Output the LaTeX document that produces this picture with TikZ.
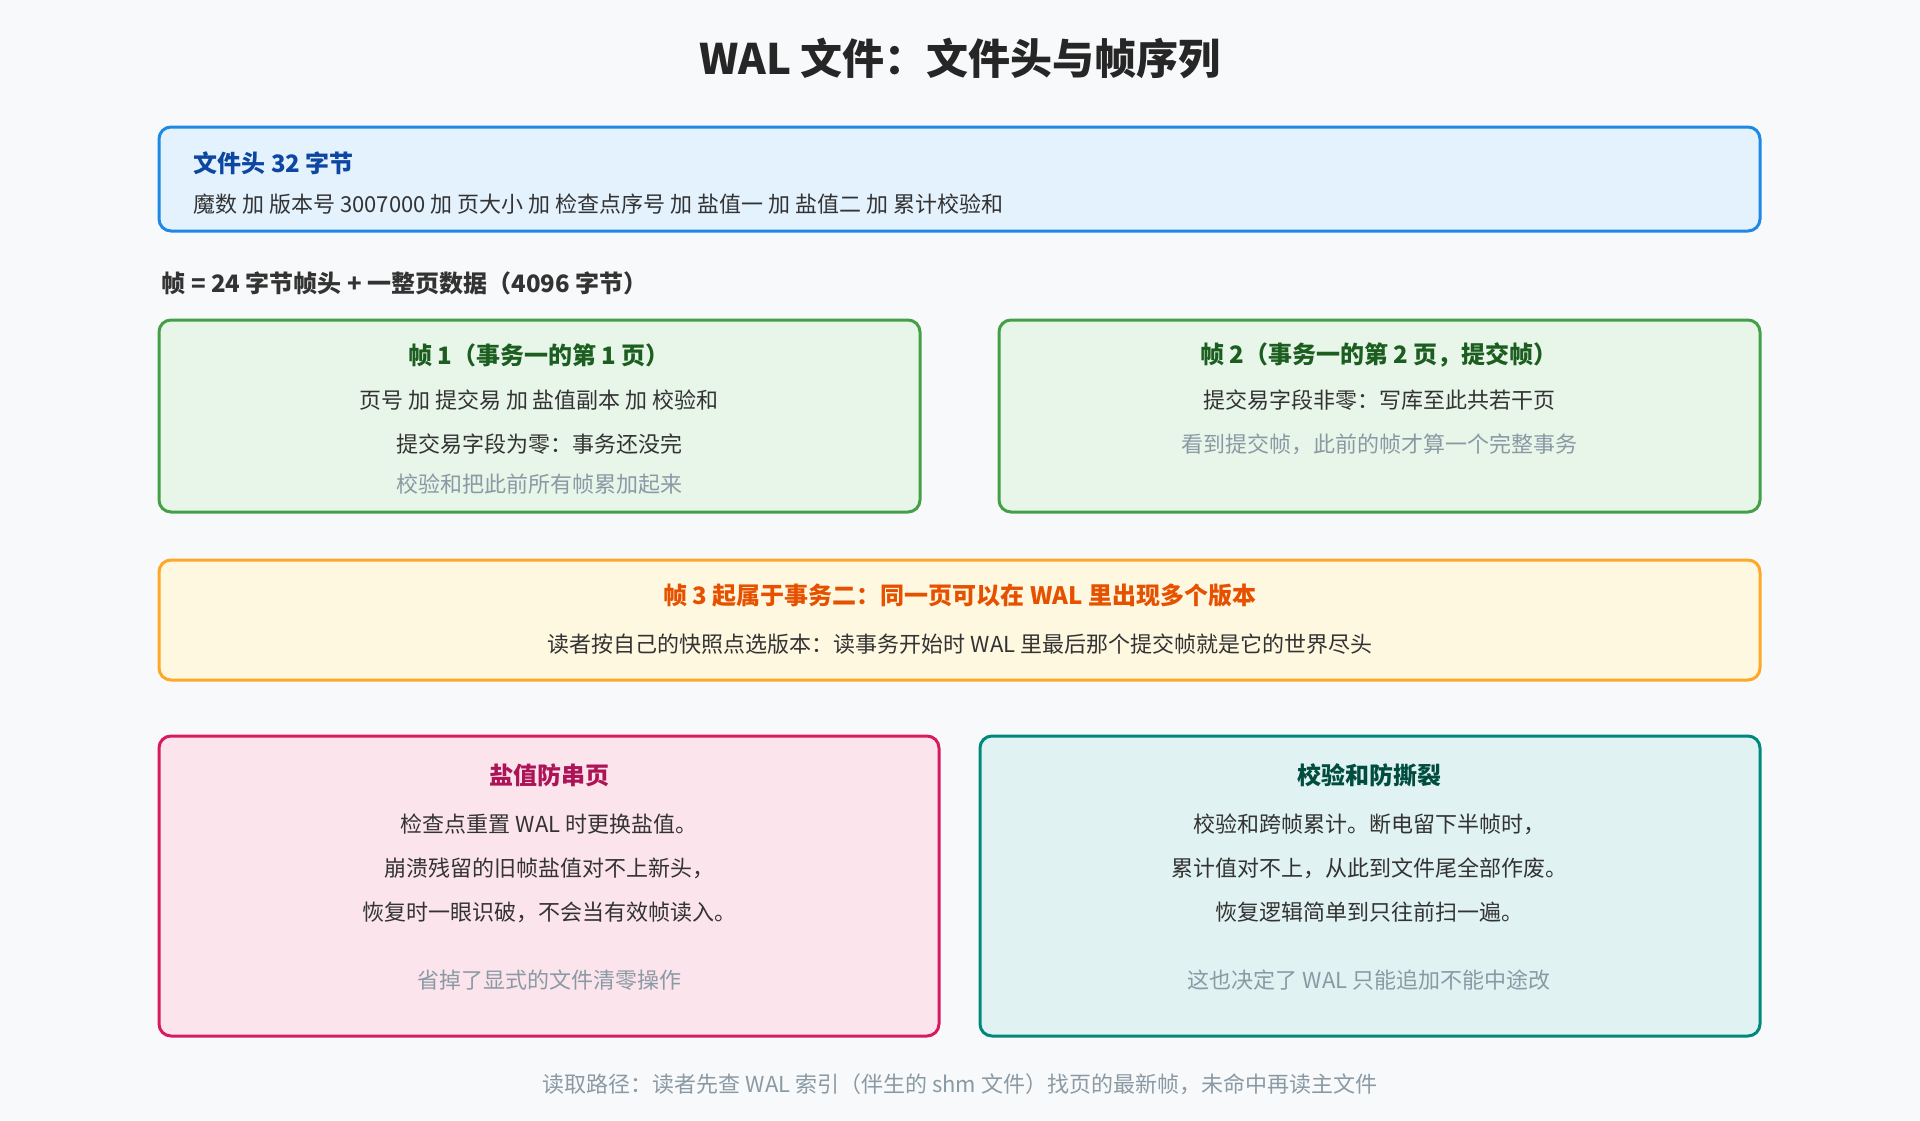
\documentclass[tikz,border=0pt]{standalone}
\usepackage{fontspec}
\setmainfont{Noto Sans CJK SC}
\begin{document}
\begin{tikzpicture}[x=1pt,y=-1pt,
 box/.style={draw=#1,line width=3pt,rounded corners=12pt},
 t/.style={font=\fontsize{22}{25}\selectfont,text=black!80},
 g/.style={font=\fontsize{22}{25}\selectfont,text=gray!80!blue!70},
 h/.style={font=\fontsize{24}{27}\selectfont\bfseries}]
\definecolor{bg}{HTML}{F8F9FA}
\definecolor{bB}{HTML}{1E88E5}\definecolor{fB}{HTML}{E3F2FD}\definecolor{tB}{HTML}{0D47A1}
\definecolor{bG}{HTML}{43A047}\definecolor{fG}{HTML}{E8F5E9}\definecolor{tG}{HTML}{1B5E20}
\definecolor{bO}{HTML}{FFA726}\definecolor{fO}{HTML}{FFF8E1}\definecolor{tO}{HTML}{E65100}
\definecolor{bP}{HTML}{D81B60}\definecolor{fP}{HTML}{FCE4EC}\definecolor{tP}{HTML}{AD1457}
\definecolor{bT}{HTML}{00897B}\definecolor{fT}{HTML}{E0F2F1}\definecolor{tT}{HTML}{004D40}
\definecolor{gr}{HTML}{8A9AA5}
\tikzset{g/.append style={text=gr}}
\path[fill=bg] (0,0) rectangle (1920,1120);
\node[font=\fontsize{42}{46}\selectfont\bfseries,text=black!85] (title) at (960,58) {WAL 文件：文件头与帧序列};
\path[box=bB,fill=fB] (159,127) rectangle (1760,231);
\node[h,anchor=west,text=tB] (hh) at (190,163) {文件头 32 字节};
\node[t,anchor=west] (hb) at (190,204) {魔数 加 版本号 3007000 加 页大小 加 检查点序号 加 盐值一 加 盐值二 加 累计校验和};
\node[h,anchor=west,text=black!80] (fr) at (158,283) {帧 = 24 字节帧头 + 一整页数据（4096 字节）};
\path[box=bG,fill=fG] (159,320) rectangle (920,512);
\node[h,text=tG] (f1) at (539,355) {帧 1（事务一的第 1 页）};
\node[t] (f1a) at (539,400) {页号 加 提交易 加 盐值副本 加 校验和};
\node[t] (f1b) at (539,444) {提交易字段为零：事务还没完};
\node[g] (f1c) at (539,484) {校验和把此前所有帧累加起来};
\path[box=bG,fill=fG] (999,320) rectangle (1760,512);
\node[h,text=tG] (f2) at (1379,355) {帧 2（事务一的第 2 页，提交帧）};
\node[t] (f2a) at (1379,400) {提交易字段非零：写库至此共若干页};
\node[g] (f2b) at (1379,444) {看到提交帧，此前的帧才算一个完整事务};
\path[box=bO,fill=fO] (159,560) rectangle (1760,680);
\node[h,text=tO] (f3) at (960,596) {帧 3 起属于事务二：同一页可以在 WAL 里出现多个版本};
\node[t] (f3a) at (960,644) {读者按自己的快照点选版本：读事务开始时 WAL 里最后那个提交帧就是它的世界尽头};
\path[box=bP,fill=fP] (159,736) rectangle (939,1036);
\node[h,text=tP] (p) at (549,775) {盐值防串页};
\node[t] (p1) at (549,824) {检查点重置 WAL 时更换盐值。};
\node[t] (p2) at (549,868) {崩溃残留的旧帧盐值对不上新头，};
\node[t] (p3) at (549,912) {恢复时一眼识破，不会当有效帧读入。};
\node[g] (p4) at (549,980) {省掉了显式的文件清零操作};
\path[box=bT,fill=fT] (980,736) rectangle (1760,1036);
\node[h,text=tT] (q) at (1369,775) {校验和防撕裂};
\node[t] (q1) at (1369,824) {校验和跨帧累计。断电留下半帧时，};
\node[t] (q2) at (1369,868) {累计值对不上，从此到文件尾全部作废。};
\node[t] (q3) at (1369,912) {恢复逻辑简单到只往前扫一遍。};
\node[g] (q4) at (1369,980) {这也决定了 WAL 只能追加不能中途改};
\node[g] (ft) at (960,1084) {读取路径：读者先查 WAL 索引（伴生的 shm 文件）找页的最新帧，未命中再读主文件};
\end{tikzpicture}
\end{document}
